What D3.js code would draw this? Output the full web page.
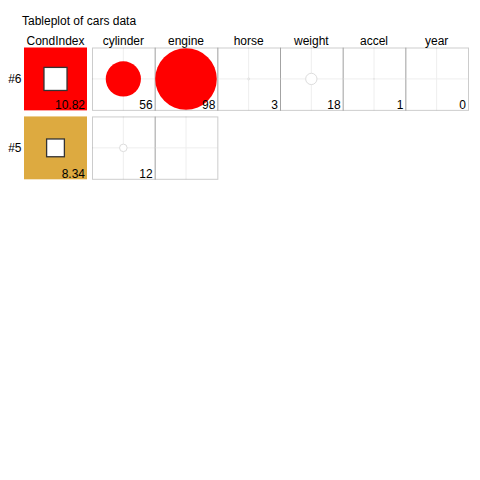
<!DOCTYPE html>
<html><head><meta charset="utf-8">
<script src="https://cdn.jsdelivr.net/npm/d3@7"></script>
<style>body{margin:0;background:#fff}text{font-family:"Liberation Sans",Arial,sans-serif;}</style>
</head><body>
<script>
const title = "Tableplot of cars data";
const rowLabels = ["#6", "#5"];
const condIndex = [10.82, 8.34];
const condColors = ["#FF0000", "#DDAA40"];
const columns = ["cylinder", "engine", "horse", "weight", "accel", "year"];
const row6 = [56, 98, 3, 18, 1, 0];
const row5 = [12, null];
const rowsValues = [row6, row5];

const svg = d3.select("body").append("svg").attr("width", 480).attr("height", 480);
svg.append("rect").attr("width", 480).attr("height", 480).attr("fill", "#fff");

const y = d3.scaleBand().domain(rowLabels).range([47.5, 179.3]).paddingInner(0.088);
const x = d3.scaleBand().domain(columns).range([92, 468]);
const xc = d3.scaleBand().domain(["CondIndex"]).range([24, 87]);
const bw = y.bandwidth();
const r = d3.scaleLinear().domain([0, 100]).range([0, bw / 2]);
const side = d3.scaleLinear().domain([0, 29.5]).range([0, bw]);

svg.append("text").attr("x", 22).attr("y", 25).attr("font-size", 12).text(title);

// headers
svg.append("text").attr("x", xc("CondIndex") + xc.bandwidth() / 2).attr("y", 44.5)
  .attr("text-anchor", "middle").attr("font-size", 12).text("CondIndex");
columns.forEach(c => {
  svg.append("text").attr("x", x(c) + x.bandwidth() / 2).attr("y", 44.5)
    .attr("text-anchor", "middle").attr("font-size", 12).text(c);
});

rowLabels.forEach((rl, i) => {
  const y0 = y(rl);
  svg.append("text").attr("x", 21.5).attr("y", y0 + bw / 2 + 4.5).attr("text-anchor", "end")
    .attr("font-size", 12).text(rl);
  // CondIndex cell
  const cx0 = xc("CondIndex"), cw = xc.bandwidth();
  svg.append("rect").attr("x", cx0).attr("y", y0).attr("width", cw).attr("height", bw)
    .attr("fill", condColors[i]);
  const s = side(condIndex[i]);
  svg.append("rect").attr("x", cx0 + cw / 2 - s / 2).attr("y", y0 + bw / 2 - s / 2)
    .attr("width", s).attr("height", s).attr("fill", "#fff").attr("stroke", "#333").attr("stroke-width", 1.3);
  svg.append("text").attr("x", cx0 + cw - 2).attr("y", y0 + bw - 1.5).attr("text-anchor", "end")
    .attr("font-size", 12).text(condIndex[i].toFixed(2));

  const vals = rowsValues[i];
  vals.forEach((v, j) => {
    const c = columns[j];
    const x0 = x(c), w = x.bandwidth();
    const g = svg.append("g");
    g.append("line").attr("x1", x0 + w / 2).attr("x2", x0 + w / 2).attr("y1", y0).attr("y2", y0 + bw)
      .attr("stroke", "#eeeeee");
    g.append("line").attr("x1", x0).attr("x2", x0 + w).attr("y1", y0 + bw / 2).attr("y2", y0 + bw / 2)
      .attr("stroke", "#eeeeee");
    g.append("rect").attr("x", x0 + 0.5).attr("y", y0 + 0.5).attr("width", w).attr("height", bw - 0.5)
      .attr("fill", "none").attr("stroke", "rgba(0,0,0,0.2)").attr("stroke-width", 1);
    if (v !== null) {
      if (v > 0) {
        const big = v >= 50;
        g.append("circle").attr("cx", x0 + w / 2).attr("cy", y0 + bw / 2).attr("r", r(v))
          .attr("fill", big ? "#FF0000" : "#fff")
          .attr("stroke", big ? "none" : "#dddddd").attr("stroke-width", 1);
      }
      g.append("text").attr("x", x0 + w - 2).attr("y", y0 + bw - 1.5).attr("text-anchor", "end")
        .attr("font-size", 12).text(v);
    }
  });
});
</script>
</body></html>
